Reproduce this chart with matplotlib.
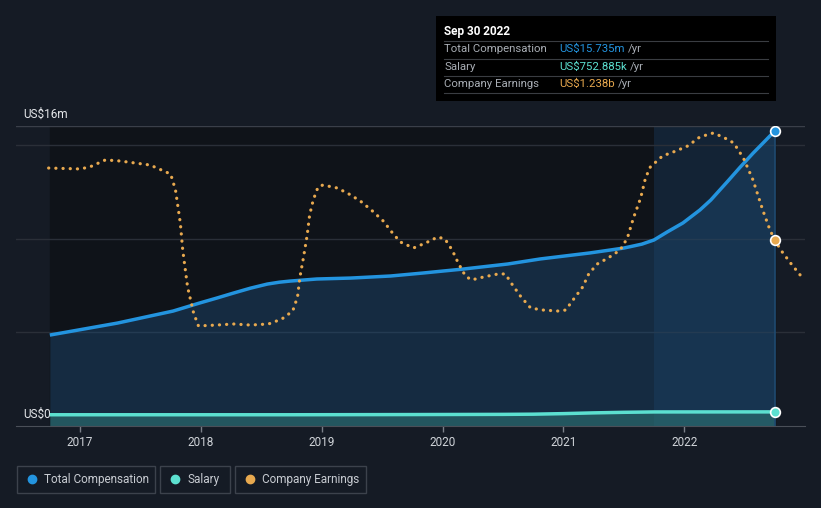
import matplotlib
matplotlib.use("Agg")
import matplotlib.pyplot as plt
from matplotlib.patches import Rectangle

plt.rcParams["font.family"] = ["Roboto", "DejaVu Sans"]

# total compensation, US$m
comp_x = [2016.75, 2017.31, 2017.77, 2017.99, 2018.13, 2018.27, 2018.41, 2018.55, 2018.65,
          2018.74, 2018.96, 2019.24, 2019.57, 2019.84, 2020.17, 2020.54, 2020.81, 2021.22,
          2021.50, 2021.65, 2021.75, 2021.86, 2021.99, 2022.13, 2022.22, 2022.36, 2022.46,
          2022.57, 2022.66, 2022.75]
comp_y = [4.85, 5.49, 6.13, 6.56, 6.82, 7.09, 7.35, 7.57, 7.67,
          7.73, 7.84, 7.89, 8.00, 8.16, 8.37, 8.64, 8.91, 9.23,
          9.49, 9.70, 9.92, 10.35, 10.83, 11.52, 12.05, 13.05, 13.78,
          14.55, 15.14, 15.735]

# salary, US$m
salary_x = [2016.75, 2017.75, 2018.75, 2019.75, 2020.5, 2020.75, 2021.0, 2021.25, 2021.5, 2021.75, 2022.75]
salary_y = [0.60, 0.60, 0.60, 0.61, 0.62, 0.63, 0.66, 0.70, 0.73, 0.75, 0.753]

# company earnings, US$b
earn_x = [2016.74, 2017.0, 2017.08, 2017.21, 2017.33, 2017.58, 2017.75, 2017.79, 2017.83,
          2017.85, 2017.89, 2017.94, 2017.98, 2018.13, 2018.27, 2018.41, 2018.56, 2018.67,
          2018.76, 2018.80, 2018.82, 2018.85, 2018.88, 2018.90, 2018.93, 2018.97, 2019.01,
          2019.13, 2019.24, 2019.33, 2019.42, 2019.51, 2019.58, 2019.65, 2019.76, 2019.86,
          2019.96, 2020.02, 2020.08, 2020.13, 2020.19, 2020.24, 2020.34, 2020.46, 2020.52,
          2020.58, 2020.65, 2020.73, 2020.83, 2020.96, 2021.02, 2021.08, 2021.16, 2021.21,
          2021.28, 2021.37, 2021.47, 2021.53, 2021.58, 2021.64, 2021.68, 2021.72, 2021.82,
          2021.93, 2022.03, 2022.13, 2022.24, 2022.32, 2022.41, 2022.49, 2022.57, 2022.65,
          2022.71, 2022.75, 2022.80, 2022.88, 2022.98]
earn_y = [1.717, 1.711, 1.724, 1.771, 1.764, 1.737, 1.677, 1.571, 1.351,
          1.171, 0.925, 0.752, 0.666, 0.672, 0.679, 0.672, 0.679, 0.712,
          0.765, 0.859, 0.992, 1.125, 1.271, 1.404, 1.504, 1.591, 1.604,
          1.584, 1.538, 1.491, 1.431, 1.364, 1.291, 1.225, 1.185, 1.218,
          1.258, 1.245, 1.171, 1.085, 0.998, 0.972, 0.992, 1.012, 1.012,
          0.938, 0.859, 0.785, 0.772, 0.765, 0.772, 0.839, 0.925, 1.012,
          1.078, 1.118, 1.171, 1.251, 1.384, 1.518, 1.651, 1.724, 1.797,
          1.830, 1.864, 1.924, 1.950, 1.924, 1.884, 1.784, 1.637, 1.438,
          1.305, 1.238, 1.171, 1.085, 0.985]

years = [2017, 2018, 2019, 2020, 2021, 2022]

BG = "#151b25"
BLUE = "#2394df"
TEAL = "#5ce0d0"
ORANGE = "#e8a94f"

fig = plt.figure(figsize=(8.21, 5.08), dpi=100, facecolor=BG)
ax = fig.add_axes([16 / 821, 82 / 508, 789 / 821, 300 / 508])
ax.set_facecolor(BG)
ax.set_xlim(2016.47, 2023.0)
ax.set_ylim(0, 16)

# darker data region and highlighted last year
ax.axvspan(comp_x[0], comp_x[-1], color="#0f1319", zorder=0)
ax.axvspan(2021.75, 2022.75, color="#17324d", alpha=0.55, zorder=0.5, lw=0)

for g in [5, 10, 15]:
    ax.axhline(g, color="#2a2f38", lw=1, zorder=1)
ax.axhline(16, color="#3a3f49", lw=1, zorder=1)

ax.fill_between(comp_x, 0, comp_y, color="#1d4a72", alpha=0.45, lw=0, zorder=2)
ax.fill_between(salary_x, 0, salary_y, color="#2f7a78", alpha=0.55, lw=0, zorder=2.5)
ax.plot(comp_x, comp_y, color=BLUE, lw=2.5, zorder=4, solid_capstyle="butt",
        solid_joinstyle="round")
ax.plot(salary_x, salary_y, color=TEAL, lw=2.5, zorder=4, solid_capstyle="butt")

# tooltip marker line
ax.axvline(2022.75, ymax=1.0, color="#1f4a70", lw=1.2, zorder=3)

ax.set_xticks(years)
ax.set_xticklabels([str(y) for y in years])
ax.tick_params(axis="x", colors="#7a7f88", length=4, width=1, labelcolor="#d0d4d9",
               labelsize=8.5, pad=3)
ax.set_yticks([])
for s in ["top", "left", "right"]:
    ax.spines[s].set_visible(False)
ax.spines["bottom"].set_color("#4a4f58")

ax.text(2016.53, 16.3, "US$16m", color="#e6e8eb", fontsize=8.5, va="bottom")
ax.text(2016.53, 0.6, "US$0", color="#e6e8eb", fontsize=8.5, va="center")

ax2 = ax.twinx()
ax2.set_ylim(0, 300 / 150.24)
ax2.patch.set_visible(False)
ax2.axis("off")
ax2.plot(earn_x, earn_y, color=ORANGE, lw=2.3, linestyle=(0, (0.05, 2.2)),
         dash_capstyle="round", zorder=5)
ax2.plot([earn_x[73]], [earn_y[73]], "o", ms=7, color=ORANGE, mec="white", mew=1.2, zorder=6)

ax3 = ax.twinx()
ax3.set_ylim(0, 16)
ax3.axis("off")
ax3.plot([comp_x[-1]], [comp_y[-1]], "o", ms=7, color=BLUE, mec="white", mew=1.2, zorder=7)
ax3.plot([salary_x[-1]], [salary_y[-1]], "o", ms=7, color=TEAL, mec="white", mew=1.2, zorder=7)

# tooltip box
W, H = 821, 508
def fx(px):
    return px / W
def fy(py):
    return 1 - py / H

fig.patches.append(Rectangle((fx(436), fy(101)), 340 / W, 85 / H, transform=fig.transFigure,
                             facecolor="#000000", edgecolor="none", zorder=10))
fig.text(fx(444), fy(31), "Sep 30 2022", color="white", fontsize=8.5, fontweight="bold",
         va="center", zorder=11)
rows = [("Total Compensation", "US$15.735m", BLUE),
        ("Salary", "US$752.885k", TEAL),
        ("Company Earnings", "US$1.238b", ORANGE)]
for i, (lab, val, c) in enumerate(rows):
    yy = 49 + i * 17.5
    fig.text(fx(444), fy(yy), lab, color="#a8adb4", fontsize=8.2, va="center", zorder=11)
    t = fig.text(fx(559), fy(yy), val, color=c, fontsize=8.2, va="center", zorder=11)
    fig.canvas.draw()
    bb = t.get_window_extent()
    fig.text(bb.x1 / W + 3 / W, fy(yy), "/yr", color="#a8adb4", fontsize=8.2, va="center", zorder=11)
for yy in [41, 58.5, 76, 93]:
    fig.add_artist(plt.Line2D([fx(444), fx(768)], [fy(yy), fy(yy)], color="#3a3d42",
                              lw=0.8, zorder=11))

# legend boxes
legend = [("Total Compensation", BLUE, 17, 155),
          ("Salary", TEAL, 160, 230),
          ("Company Earnings", ORANGE, 235, 366)]
for lab, c, x0, x1 in legend:
    fig.patches.append(Rectangle((fx(x0), fy(493)), (x1 - x0) / W, 27 / H, transform=fig.transFigure,
                                 facecolor="none", edgecolor="#3c424c", lw=1))
    fig.add_artist(plt.Line2D([fx(x0 + 15)], [fy(479)], marker="o", ms=6, color=c, lw=0))
    fig.text(fx(x0 + 27), fy(479), lab, color="#c8ccd2", fontsize=8.5, va="center")

fig.savefig("out.png", dpi=100, facecolor=BG)
